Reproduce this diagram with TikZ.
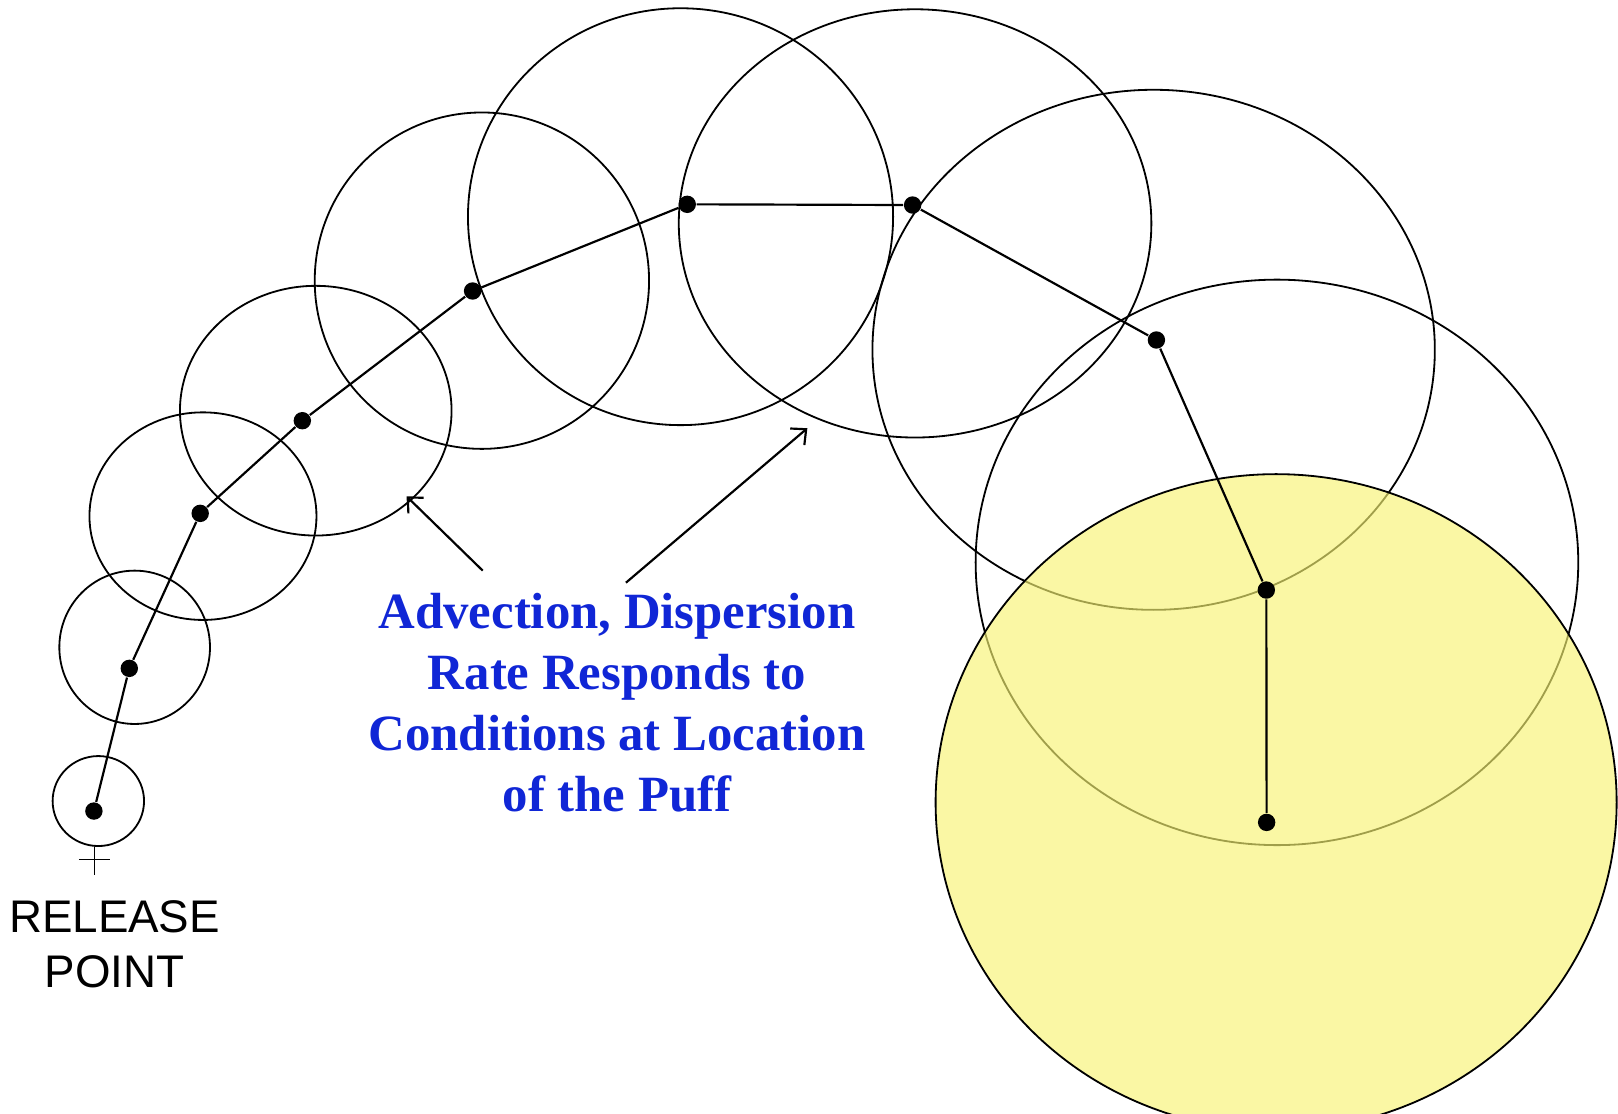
\documentclass[tikz,border=0pt]{standalone}
\usepackage{fontspec}
\usetikzlibrary{arrows.meta}
\setmainfont{Liberation Serif}
\newfontfamily\tagfont{Liberation Sans}
\definecolor{puffyellow}{RGB}{247,243,115}
\definecolor{noteblue}{RGB}{16,38,214}

\begin{document}
\begin{tikzpicture}[x=0.01cm, y=-0.01cm, >={Straight Barb[length=3.2pt, width=6pt]},
  puff/.style={draw=black, line width=0.5pt},
  centre/.style={circle, fill=black, inner sep=0pt, minimum size=4.8pt},
  track/.style={line width=0.6pt},
  note/.style={text=noteblue, font=\bfseries\fontsize{14}{16.84}\selectfont, align=center, inner sep=0pt}]

\useasboundingbox (0,0) rectangle (1568,1079);

% Puffs
\draw[puff] (95.3,776.3)  ellipse [x radius=44.3, y radius=43.6];
\draw[puff] (130.5,627.3) ellipse [x radius=73,   y radius=74.3];
\draw[puff] (196.7,500.2) ellipse [x radius=110,  y radius=100.6];
\draw[puff] (306,398)     ellipse [x radius=131.6,y radius=121];
\draw[puff] (467,272)     ellipse [x radius=162,  y radius=163];
\draw[puff] (659.5,210)   ellipse [x radius=206,  y radius=202];
\draw[puff] (886.8,216.5) ellipse [x radius=229,  y radius=207.5];
\draw[puff] (1118,339)    ellipse [x radius=272.5,y radius=252];
\draw[puff] (1237.5,545)  ellipse [x radius=292,  y radius=274];
% current puff (shaded)
\draw[puff, fill=puffyellow, fill opacity=0.65] (1236.7,777.5) ellipse [x radius=330, y radius=318];

% Puff centres
\node[centre] (p0) at (91,786) {};
\node[centre] (p1) at (125.3,647.7) {};
\node[centre] (p2) at (194,497.5) {};
\node[centre] (p3) at (293,407.7) {};
\node[centre] (p4) at (458,282) {};
\node[centre] (p5) at (666,198) {};
\node[centre] (p6) at (884.4,198.7) {};
\node[centre] (p7) at (1120.7,329.5) {};
\node[centre] (p8) at (1227.2,571.8) {};
\node[centre] (p9) at (1227.5,797) {};

% Trajectory
\draw[track] (p0) -- (p1) -- (p2) -- (p3) -- (p4) -- (p5) -- (p6) -- (p7) -- (p8) -- (p9);

% Release point
\draw (76.5,833) -- (106.5,833);
\draw (91.5,821) -- (91.5,848);
\node[font=\tagfont\fontsize{12.6}{15.1}\selectfont, align=center, anchor=base, inner sep=0pt] (release) at (111,957) {RELEASE\\POINT};

% Note with its arrows
\node[note, anchor=base] (note) at (598,786.6) {Advection, Dispersion\\Rate Responds to\\Conditions at Location\\of the Puff};
\coordinate (tailL) at (467.8,553);
\coordinate (tipL) at (394,481);
\coordinate (tailR) at (606.6,564.7);
\coordinate (tipR) at (782.4,415);
\draw[->, track] (tailL) -- (tipL);
\draw[->, track] (tailR) -- (tipR);

\end{tikzpicture}
\end{document}
